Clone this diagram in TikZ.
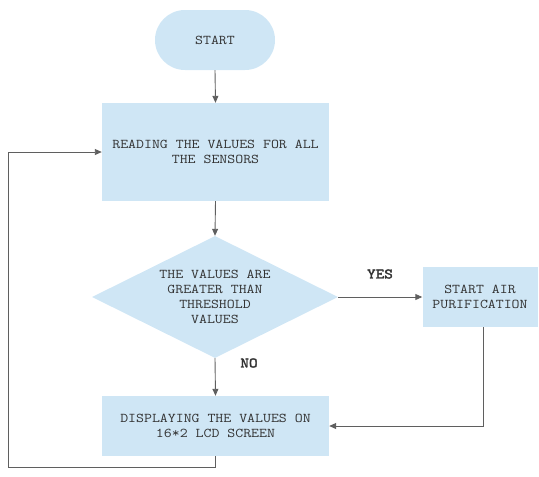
\documentclass[tikz,border=0pt]{standalone}
\usepackage{fontspec}
\newfontfamily\cour[FakeStretch=1.15]{Latin Modern Mono}
\newfontfamily\courb[FakeStretch=1.15,FakeBold=2.5]{Latin Modern Mono}
\usetikzlibrary{shapes.geometric,arrows.meta}
\definecolor{boxfill}{RGB}{207,230,245}
\definecolor{linecol}{RGB}{95,95,95}
\definecolor{txtcol}{RGB}{50,50,50}
\begin{document}
\begin{tikzpicture}[x=1pt,y=-1pt,
  base/.style={fill=boxfill,draw=none,text=txtcol,align=center,inner sep=0pt,
    font=\cour\fontsize{13.4}{15}\selectfont},
  procbox/.style={base,rectangle},
  termbox/.style={base,rectangle,rounded corners=29.9pt,minimum width=120pt,minimum height=60pt},
  decbox/.style={base,diamond,aspect=2,minimum width=246pt,minimum height=122pt},
  conn/.style={draw=linecol,line width=0.9pt,-{Triangle[width=6pt,length=7pt]}},
  lbl/.style={text=txtcol,font=\courb\fontsize{14.5}{15}\selectfont,inner sep=0pt}]
\useasboundingbox (0,0) rectangle (539,477);
\node[termbox] (start) at (215,40) {START};
\node[procbox,minimum width=227pt,minimum height=98pt] (read) at (215.5,152) {READING THE VALUES FOR ALL\\THE SENSORS};
\node[decbox] (dec) at (215,297) {THE VALUES ARE\\GREATER THAN\\THRESHOLD\\VALUES};
\node[procbox,minimum width=115pt,minimum height=60pt] (air) at (480,297) {START AIR\\PURIFICATION};
\node[procbox,minimum width=227pt,minimum height=60pt] (disp) at (215.5,426) {DISPLAYING THE VALUES ON\\16*2 LCD SCREEN};
\node[lbl] (yes) at (380,274) {YES};
\node[lbl] (no) at (249,363) {NO};
\coordinate (lb) at (8,467);
\draw[conn] (start.south) -- (read.north);
\draw[conn] (read.south) -- (dec.north);
\draw[conn] (dec.east) -- (air.west);
\draw[conn] (dec.south) -- (disp.north);
\draw[conn] ([xshift=3pt]air.south) |- (disp.east);
\draw[conn] (disp.south) |- (lb) |- (read.west);
\end{tikzpicture}
\end{document}
